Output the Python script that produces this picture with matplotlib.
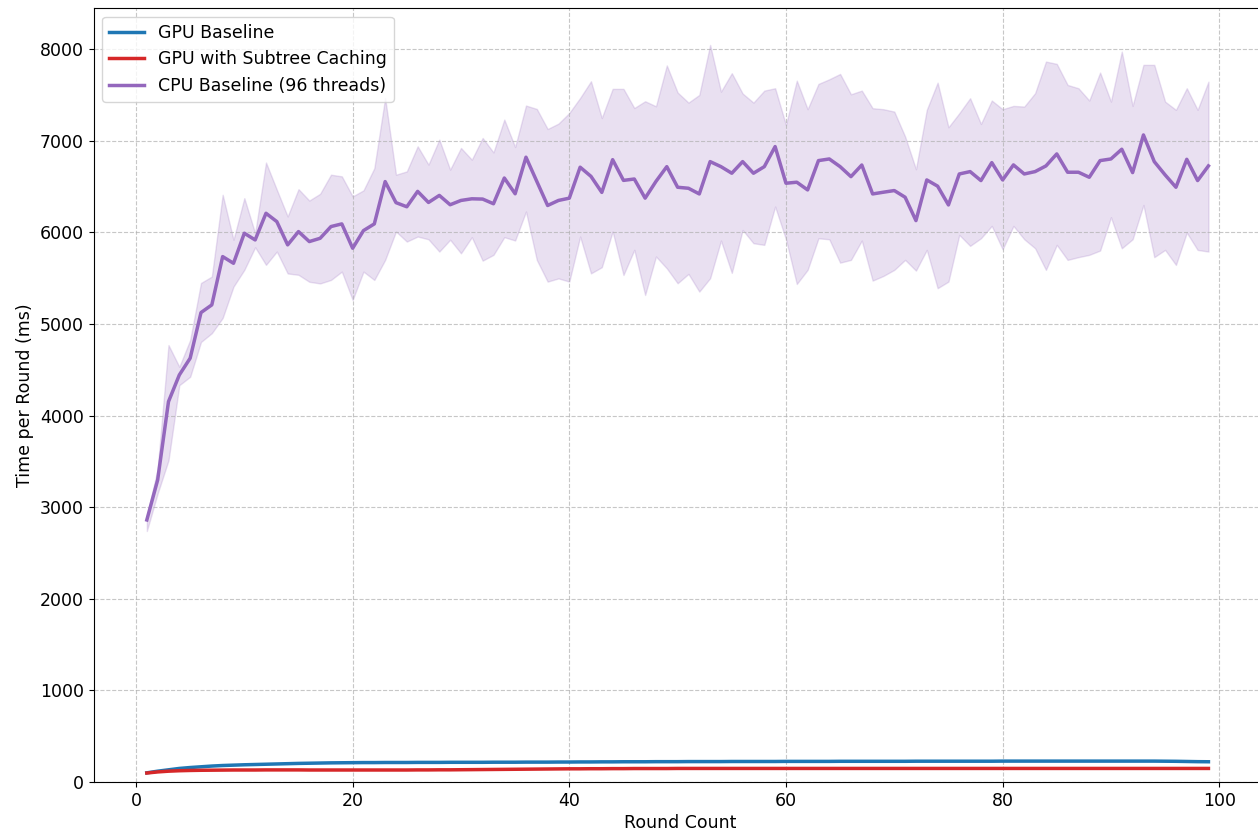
import numpy as np
import matplotlib
matplotlib.use("Agg")
import matplotlib.pyplot as plt

rounds = np.arange(1, 100)

gpu_baseline = [
    100, 118, 133, 148, 158, 166, 174, 180, 184, 188,
    191, 194, 197, 200, 203, 205, 207, 209, 210, 211,
    212, 212, 213, 213, 213, 214, 214, 214, 215, 215,
    215, 215, 216, 216, 216, 217, 217, 217, 218, 218,
    219, 219, 220, 220, 221, 221, 221, 222, 222, 222,
    223, 223, 223, 223, 224, 224, 224, 224, 224, 225,
    225, 225, 225, 225, 226, 226, 226, 226, 226, 226,
    226, 227, 227, 227, 227, 227, 227, 227, 227, 228,
    228, 228, 228, 228, 228, 228, 228, 228, 228, 228,
    228, 228, 228, 228, 227, 226, 224, 222, 221,
]

gpu_subtree = [
    98, 110, 118, 123, 126, 128, 129, 130, 131, 131,
    131, 132, 132, 132, 132, 131, 131, 131, 131, 131,
    131, 131, 131, 131, 131, 132, 132, 133, 133, 134,
    135, 136, 137, 138, 139, 140, 141, 142, 143, 144,
    144, 145, 145, 146, 146, 147, 147, 147, 147, 148,
    148, 148, 148, 148, 148, 148, 148, 148, 148, 148,
    148, 148, 148, 148, 148, 148, 148, 148, 148, 148,
    148, 148, 148, 148, 148, 148, 148, 148, 148, 148,
    148, 148, 148, 148, 148, 148, 148, 148, 148, 148,
    148, 148, 148, 148, 148, 148, 148, 148, 148,
]

cpu_mean = [
    2861, 3298, 4153, 4444, 4627, 5125, 5209, 5736, 5663, 5991,
    5918, 6209, 6118, 5864, 6009, 5900, 5936, 6064, 6093, 5827,
    6020, 6093, 6555, 6325, 6280, 6448, 6327, 6404, 6302, 6349,
    6367, 6364, 6313, 6594, 6422, 6821, 6557, 6294, 6349, 6374,
    6712, 6612, 6437, 6794, 6568, 6583, 6374, 6557, 6718, 6493,
    6482, 6420, 6773, 6718, 6646, 6773, 6646, 6718, 6937, 6537,
    6548, 6464, 6784, 6802, 6718, 6609, 6736, 6420, 6439, 6457,
    6384, 6129, 6573, 6505, 6300, 6638, 6664, 6566, 6762, 6573,
    6737, 6638, 6664, 6726, 6857, 6657, 6657, 6602, 6784, 6802,
    6908, 6653, 7064, 6773, 6628, 6493, 6798, 6566, 6726,
]

cpu_upper = [
    2900, 3420, 4770, 4533, 4825, 5448, 5518, 6411, 5919, 6374,
    5991, 6763, 6466, 6174, 6472, 6348, 6422, 6630, 6612, 6393,
    6459, 6701, 7467, 6630, 6666, 6940, 6740, 7013, 6685, 6922,
    6794, 7031, 6873, 7232, 6932, 7385, 7348, 7129, 7188, 7304,
    7468, 7650, 7249, 7567, 7567, 7358, 7432, 7377, 7823, 7527,
    7417, 7501, 8047, 7537, 7738, 7516, 7417, 7548, 7574, 7173,
    7657, 7345, 7621, 7672, 7730, 7508, 7548, 7356, 7345, 7319,
    7046, 6690, 7338, 7635, 7148, 7301, 7465, 7184, 7440, 7345,
    7381, 7374, 7520, 7865, 7840, 7610, 7574, 7440, 7745, 7428,
    7974, 7381, 7829, 7829, 7428, 7338, 7574, 7338, 7646,
]

cpu_lower = [
    2740, 3150, 3512, 4332, 4424, 4804, 4900, 5066, 5408, 5591,
    5838, 5646, 5791, 5552, 5537, 5461, 5443, 5481, 5572, 5263,
    5572, 5481, 5700, 6010, 5900, 5955, 5925, 5791, 5920, 5772,
    5948, 5692, 5755, 5948, 5912, 6228, 5700, 5463, 5498, 5463,
    5955, 5553, 5620, 6010, 5535, 5810, 5317, 5737, 5608, 5445,
    5547, 5354, 5500, 5911, 5558, 6027, 5882, 5864, 6282, 5925,
    5437, 5591, 5936, 5925, 5670, 5700, 5911, 5474, 5525, 5591,
    5700, 5583, 5809, 5391, 5463, 5973, 5853, 5936, 6071, 5816,
    6071, 5925, 5827, 5591, 5864, 5700, 5730, 5755, 5802, 6166,
    5827, 5925, 6300, 5730, 5809, 5645, 5998, 5809, 5791,
]

fig = plt.figure(figsize=(12.58, 8.34), dpi=100)
# axes run slightly past the right edge of the canvas
ax = fig.add_axes([93.75 / 1258, 52 / 834, 1172.1 / 1258, 774 / 834])

ax.plot(rounds, gpu_baseline, color="#1f77b4", lw=2.5, label="GPU Baseline")
ax.plot(rounds, gpu_subtree, color="#d62728", lw=2.5, label="GPU with Subtree Caching")
ax.plot(rounds, cpu_mean, color="#9467bd", lw=2.5, label="CPU Baseline (96 threads)")
ax.fill_between(rounds, cpu_lower, cpu_upper, color="#9467bd", alpha=0.2)

ax.set_xlim(-3.9, 104.3)
ax.set_ylim(0, 8450)
ax.set_xticks(range(0, 101, 20))
ax.set_yticks(range(0, 8001, 1000))
ax.tick_params(labelsize=12.5)
ax.set_xlabel("Round Count", fontsize=12.5, labelpad=3)
ax.set_ylabel("Time per Round (ms)", fontsize=12.5)
ax.grid(True, linestyle="--", alpha=0.7)
ax.legend(loc="upper left", fontsize=12.5)

fig.savefig("out.png", dpi=100)
